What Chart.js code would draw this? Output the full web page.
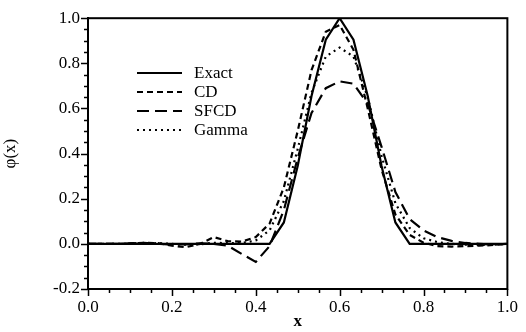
<!DOCTYPE html>
<html>
<head>
<meta charset="utf-8">
<script src="https://cdn.jsdelivr.net/npm/chart.js@4/dist/chart.umd.min.js"></script>
<style>
html,body{margin:0;padding:0;background:#fff;}
#wrap{width:526px;height:332px;position:relative;}
</style>
</head>
<body>
<div id="wrap"><canvas id="c" width="526" height="332"></canvas></div>
<script>
const xs = [0, 0.033, 0.067, 0.1, 0.133, 0.167, 0.2, 0.233, 0.267, 0.3, 0.333, 0.367, 0.4, 0.433, 0.467, 0.5, 0.533, 0.567, 0.6, 0.633, 0.667, 0.7, 0.733, 0.767, 0.8, 0.833, 0.867, 0.9, 0.933, 0.967, 1.0];
const exact = [0,0,0,0,0,0,0,0,0,0,0,0,0,0, 0.095,0.345,0.655,0.905,1.0,0.905,0.655,0.345,0.095,0, 0,0,0,0,0,0,0];
const cd = [0,0,0,0.002,0.005,0.003,-0.008,-0.015,0.0,0.03,0.012,0.01,0.03,0.09,0.25,0.5,0.77,0.94,0.97,0.86,0.6,0.33,0.13,0.04,0.005,-0.01,-0.012,-0.01,-0.008,-0.005,0];
const sfcd = [0,0,0,0.002,0.004,0.0,-0.003,-0.002,0.002,0.0,-0.008,-0.045,-0.08,-0.01,0.15,0.38,0.58,0.69,0.72,0.71,0.62,0.43,0.23,0.11,0.06,0.03,0.013,0.004,0.0,-0.003,0];
const gamma = [0,0,0,0,0.002,0.003,0,-0.004,-0.002,0.005,0.003,0.004,0.015,0.06,0.19,0.42,0.67,0.83,0.87,0.83,0.65,0.39,0.18,0.07,0.025,0.008,0.0,-0.004,-0.005,-0.003,0];
const seriesNames = ["Exact", "CD", "SFCD", "Gamma"];
const xTickLabels = [0.0, 0.2, 0.4, 0.6, 0.8, 1.0];
const yTickLabels = [-0.2, 0.0, 0.2, 0.4, 0.6, 0.8, 1.0];

const FONT = "'Liberation Serif', 'Times New Roman', serif";
const pts = arr => xs.map((x, i) => ({x: x, y: arr[i]}));
const dashes = [[], [6, 4], [12, 6], [2, 4]];
const allSeries = [exact, cd, sfcd, gamma];

const datasets = allSeries.map((s, i) => ({
  label: seriesNames[i],
  data: pts(s),
  showLine: true,
  borderColor: '#000',
  borderWidth: 2.2,
  borderDash: dashes[i],
  pointRadius: 0,
  tension: 0,
  fill: false
}));

const isLabel = (v, list) => list.some(t => Math.abs(t - v) < 1e-6);
const fmt = v => (Math.abs(v) < 1e-9 ? 0 : Number(v)).toFixed(1);

const framePlugin = {
  id: 'frame',
  afterDraw(chart) {
    const ctx = chart.ctx;
    const a = chart.chartArea;
    const xsc = chart.scales.x, ysc = chart.scales.y;
    ctx.save();
    ctx.strokeStyle = '#000';
    ctx.lineWidth = 2;
    ctx.strokeRect(a.left, a.top, a.right - a.left, a.bottom - a.top);
    ctx.lineWidth = 1.5;
    for (let k = 0; k <= 20; k++) {
      const v = k * 0.05;
      const px = Math.round(xsc.getPixelForValue(v)) + 0.5;
      const len = isLabel(v, xTickLabels) ? 7 : 4;
      ctx.beginPath();
      ctx.moveTo(px, a.bottom);
      ctx.lineTo(px, a.bottom + len);
      ctx.stroke();
    }
    for (let k = 0; k <= 24; k++) {
      const v = -0.2 + k * 0.05;
      const py = Math.round(ysc.getPixelForValue(v)) + 0.5;
      const len = isLabel(v, yTickLabels) ? 7 : 4;
      ctx.beginPath();
      ctx.moveTo(a.left, py);
      ctx.lineTo(a.left - len, py);
      ctx.stroke();
    }
    const lx0 = 137, lx1 = 182, tx = 194;
    const ly = [73, 92, 111, 130];
    ctx.font = '17px ' + FONT;
    ctx.fillStyle = '#000';
    ctx.textBaseline = 'middle';
    chart.data.datasets.forEach((ds, i) => {
      ctx.lineWidth = 2;
      ctx.setLineDash(ds.borderDash || []);
      ctx.beginPath();
      ctx.moveTo(lx0, ly[i]);
      ctx.lineTo(lx1, ly[i]);
      ctx.stroke();
      ctx.setLineDash([]);
      ctx.fillText(ds.label, tx, ly[i] + 1);
    });
    ctx.restore();
  }
};

new Chart(document.getElementById('c'), {
  type: 'scatter',
  data: { datasets: datasets },
  options: {
    responsive: false,
    animation: false,
    layout: { padding: { left: 0, right: 13, top: 15, bottom: 0 } },
    plugins: { legend: { display: false }, tooltip: { enabled: false } },
    scales: {
      x: {
        type: 'linear', min: 0, max: 1,
        afterFit(s) { s.height = 43; },
        grid: { display: false, drawTicks: false },
        border: { display: true, color: '#000', width: 2 },
        ticks: {
          stepSize: 0.2, padding: 8, color: '#000',
          font: { family: FONT, size: 17 },
          callback: v => isLabel(v, xTickLabels) ? fmt(v) : ''
        },
        title: { display: true, text: 'x', color: '#000', font: { family: FONT, size: 17, weight: 'bold' }, padding: { top: -4, bottom: 0 } }
      },
      y: {
        type: 'linear', min: -0.2, max: 1.0,
        afterFit(s) { s.width = 88; },
        grid: { display: false, drawTicks: false },
        border: { display: true, color: '#000', width: 2 },
        ticks: {
          stepSize: 0.2, padding: 8, color: '#000',
          font: { family: FONT, size: 17 },
          callback: v => isLabel(v, yTickLabels) ? fmt(v) : ''
        },
        title: { display: true, text: 'φ(x)', color: '#000', font: { family: FONT, size: 17 }, padding: { top: 0, bottom: 10 } }
      }
    }
  },
  plugins: [framePlugin]
});
</script>
</body>
</html>
